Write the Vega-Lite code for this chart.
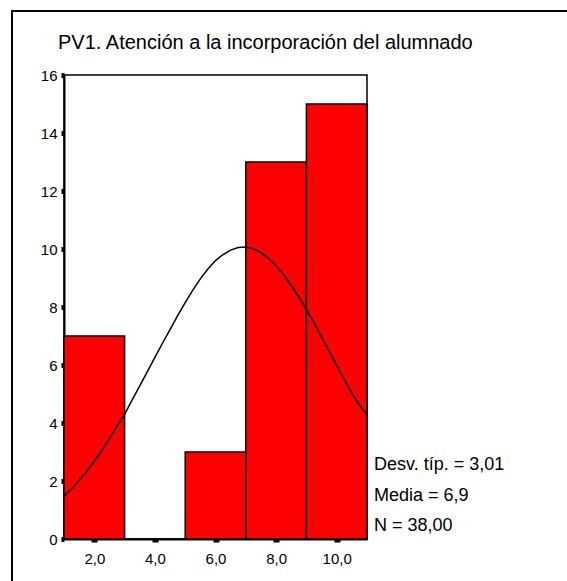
{
  "$schema": "https://vega.github.io/schema/vega-lite/v6.json",
  "width": 303,
  "height": 464,
  "autosize": {"type": "none"},
  "padding": {"left": 64, "top": 75, "right": 200, "bottom": 42},
  "background": "white",
  "title": {
    "text": "PV1. Atención a la incorporación del alumnado",
    "anchor": "start",
    "frame": "group",
    "font": "Liberation Sans",
    "fontSize": 20,
    "fontWeight": "normal",
    "color": "black",
    "dx": -6,
    "dy": 36,
    "offset": -23,
    "baseline": "alphabetic"
  },
  "config": {
    "view": {"stroke": "black", "strokeWidth": 1.5},
    "axis": {
      "grid": false,
      "title": null,
      "domainColor": "black",
      "domainWidth": 2,
      "tickColor": "black",
      "tickSize": 3,
      "labelFont": "Liberation Sans",
      "labelFontSize": 15,
      "labelColor": "black",
      "labelFlush": false
    }
  },
  "layer": [
    {
      "data": {"values": [{}]},
      "mark": {"type": "rect", "fill": "transparent", "stroke": "black", "strokeWidth": 2, "clip": false},
      "encoding": {
        "x": {"datum": -0.716, "type": "quantitative"},
        "x2": {"datum": 20},
        "y": {"datum": 18.21, "type": "quantitative"},
        "y2": {"datum": -4}
      }
    },
    {
      "data": {
        "values": [
          {"bin_start": 1, "bin_end": 3, "count": 7},
          {"bin_start": 3, "bin_end": 5, "count": 0},
          {"bin_start": 5, "bin_end": 7, "count": 3},
          {"bin_start": 7, "bin_end": 9, "count": 13},
          {"bin_start": 9, "bin_end": 11, "count": 15}
        ]
      },
      "mark": {"type": "rect", "fill": "#FF0000", "stroke": "black", "strokeWidth": 1.5},
      "encoding": {
        "x": {
          "field": "bin_start",
          "type": "quantitative",
          "scale": {"domain": [1, 11], "nice": false, "zero": false},
          "axis": {
            "values": [2, 4, 6, 8, 10],
            "labelExpr": "replace(format(datum.value, '.1f'), '.', ',')",
            "tickWidth": 6,
            "labelPadding": 9
          }
        },
        "x2": {"field": "bin_end"},
        "y": {
          "field": "count",
          "type": "quantitative",
          "scale": {"domain": [0, 16], "nice": false},
          "axis": {
            "values": [0, 2, 4, 6, 8, 10, 12, 14, 16],
            "tickWidth": 5,
            "labelPadding": 4
          }
        },
        "y2": {"datum": 0}
      }
    },
    {
      "data": {
        "values": [
          {"x": 1, "y": 1.47}, {"x": 1.25, "y": 1.73}, {"x": 1.5, "y": 2.02}, {"x": 1.75, "y": 2.33},
          {"x": 2, "y": 2.68}, {"x": 2.25, "y": 3.05}, {"x": 2.5, "y": 3.46}, {"x": 2.75, "y": 3.89},
          {"x": 3, "y": 4.3}, {"x": 3.25, "y": 4.8}, {"x": 3.5, "y": 5.28}, {"x": 3.75, "y": 5.77},
          {"x": 4, "y": 6.26}, {"x": 4.25, "y": 6.75}, {"x": 4.5, "y": 7.22}, {"x": 4.75, "y": 7.7},
          {"x": 5, "y": 8.15}, {"x": 5.25, "y": 8.58}, {"x": 5.5, "y": 8.97}, {"x": 5.75, "y": 9.31},
          {"x": 6, "y": 9.6}, {"x": 6.25, "y": 9.81}, {"x": 6.5, "y": 9.96}, {"x": 6.75, "y": 10.05},
          {"x": 7, "y": 10.07}, {"x": 7.25, "y": 10.01}, {"x": 7.5, "y": 9.88}, {"x": 7.75, "y": 9.68},
          {"x": 8, "y": 9.42}, {"x": 8.25, "y": 9.11}, {"x": 8.5, "y": 8.75}, {"x": 8.75, "y": 8.34},
          {"x": 9, "y": 7.92}, {"x": 9.25, "y": 7.45}, {"x": 9.5, "y": 6.97}, {"x": 9.75, "y": 6.48},
          {"x": 10, "y": 5.99}, {"x": 10.25, "y": 5.5}, {"x": 10.5, "y": 5.03}, {"x": 10.75, "y": 4.62},
          {"x": 11, "y": 4.28}
        ]
      },
      "mark": {"type": "line", "color": "black", "strokeWidth": 1.5},
      "encoding": {
        "x": {"field": "x", "type": "quantitative"},
        "y": {"field": "y", "type": "quantitative"}
      }
    },
    {
      "data": {"values": [{}]},
      "mark": {"type": "text", "align": "left", "baseline": "alphabetic", "font": "Liberation Sans", "fontSize": 18, "fill": "black", "clip": false},
      "encoding": {
        "x": {"datum": 11.23, "type": "quantitative"},
        "y": {"datum": 2.38, "type": "quantitative"},
        "text": {"value": "Desv. típ. = 3,01"}
      }
    },
    {
      "data": {"values": [{}]},
      "mark": {"type": "text", "align": "left", "baseline": "alphabetic", "font": "Liberation Sans", "fontSize": 18, "fill": "black", "clip": false},
      "encoding": {
        "x": {"datum": 11.23, "type": "quantitative"},
        "y": {"datum": 1.31, "type": "quantitative"},
        "text": {"value": "Media = 6,9"}
      }
    },
    {
      "data": {"values": [{}]},
      "mark": {"type": "text", "align": "left", "baseline": "alphabetic", "font": "Liberation Sans", "fontSize": 18, "fill": "black", "clip": false},
      "encoding": {
        "x": {"datum": 11.23, "type": "quantitative"},
        "y": {"datum": 0.28, "type": "quantitative"},
        "text": {"value": "N = 38,00"}
      }
    }
  ]
}
